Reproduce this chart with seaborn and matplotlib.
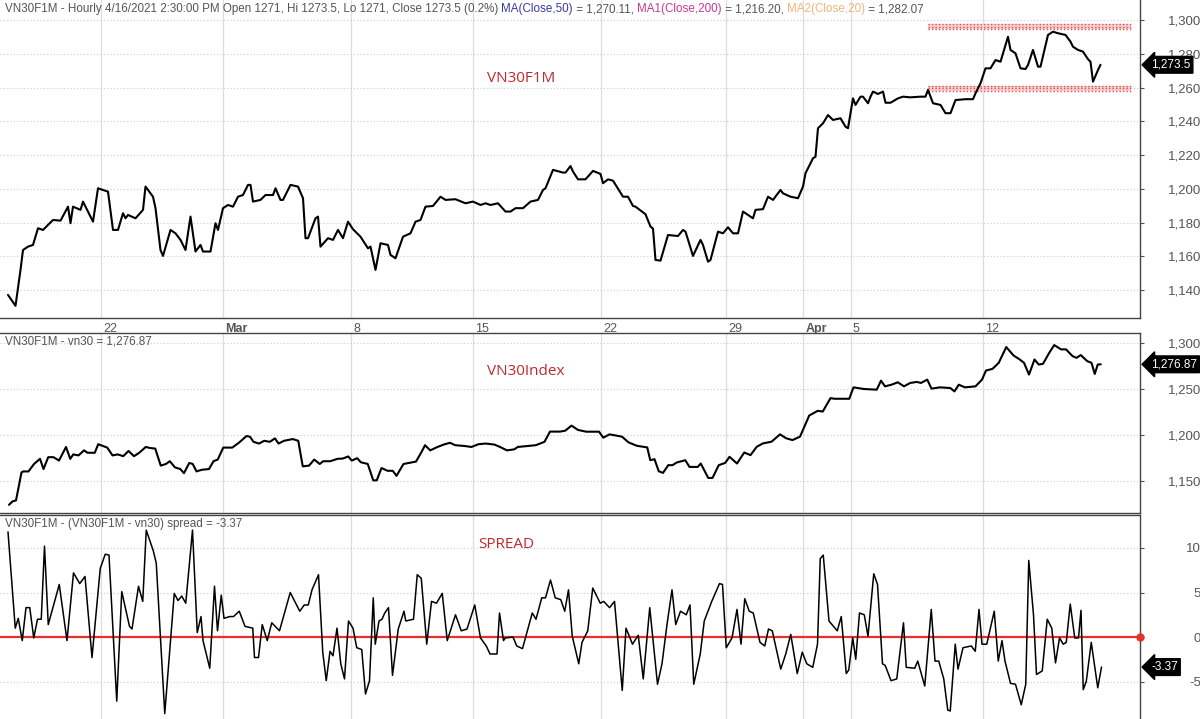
import matplotlib
matplotlib.use("Agg")
import matplotlib.pyplot as plt
import seaborn as sns
import pandas as pd

sns.set_style("white")
plt.rcParams["font.family"] = ["Liberation Sans", "DejaVu Sans"]

# time in trading days since the first bar (Feb 17 2021)
f1m_t = [0.0, 0.3, 0.5, 0.6, 0.8, 1.0, 1.2, 1.4, 1.8, 2.1, 2.4, 2.5, 2.6, 2.9, 3.0, 3.4, 3.6, 4.0, 4.2, 4.4,
         4.6, 4.7, 4.8, 5.1, 5.4, 5.5, 5.8, 5.9, 6.1, 6.2, 6.5, 6.7, 6.9, 7.1, 7.3, 7.5, 7.7, 7.8, 8.1, 8.3,
         8.4, 8.6, 8.8, 9.0, 9.2, 9.4, 9.6, 9.7, 9.8, 10.1, 10.3, 10.6, 10.7, 10.9, 11.0, 11.3, 11.6, 11.8, 11.9, 12.0,
         12.3, 12.4, 12.5, 12.8, 13.0, 13.2, 13.4, 13.6, 13.8, 14.1, 14.4, 14.5, 14.7, 14.9,
         15.2, 15.3, 15.5, 15.8, 16.1, 16.3, 16.5, 16.7, 17.0, 17.3, 17.5, 17.9, 18.3, 18.6, 18.9, 19.1, 19.3, 19.6,
         19.9, 20.1, 20.3, 20.6, 20.9, 21.2, 21.4, 21.5, 21.8, 22.2, 22.3, 22.5, 22.6, 22.8, 23.1, 23.4, 23.7, 23.8,
         24.0, 24.2, 24.6, 24.8, 25.0, 25.1, 25.5, 25.7, 25.8, 25.9, 26.1, 26.4, 26.8, 27.0, 27.1, 27.4, 27.7, 27.8,
         28.0, 28.1, 28.4, 28.6, 28.8, 29.0, 29.2, 29.4, 29.7,
         29.8, 29.9, 30.2, 30.4, 30.6, 30.9, 31.0, 31.3, 31.6, 31.8, 31.9, 32.2, 32.3, 32.4, 32.6, 32.8, 33.0, 33.3,
         33.5, 33.6, 33.8, 33.9, 34.1, 34.2, 34.4, 34.5, 34.6, 34.8, 35.0, 35.1, 35.3, 35.6, 35.8, 36.1, 36.5, 36.7,
         36.8, 37.0, 37.3, 37.5, 37.7, 37.9, 38.3, 38.6, 38.7, 38.9, 39.1, 39.3, 39.5, 39.7, 39.9, 40.0, 40.1, 40.3,
         40.5, 40.7, 40.8, 41.0, 41.2, 41.3, 41.6, 41.8, 42.0, 42.3, 42.5, 42.6, 42.8, 43.0, 43.2, 43.3, 43.4, 43.6, 43.7]
f1m_close = [1137.1, 1130.6, 1151.9, 1163.7, 1165.7, 1166.7, 1176.6, 1175.6, 1181.5, 1181.1, 1189.4, 1179.6, 1189.4, 1187.5,
             1192.4, 1180.5, 1200.3, 1198.3, 1175.6, 1175.6, 1185.5, 1182.5, 1184.5, 1182.5, 1187.5, 1201.3, 1195.3, 1188.5,
             1163.7, 1160.2, 1175.6, 1173.6, 1169.7, 1163.7, 1183.5, 1162.8, 1166.7, 1162.8, 1162.8, 1179.6, 1175.6, 1188.5,
             1190.4, 1189.4, 1195.3, 1196.3, 1202.3, 1202.3, 1192.4, 1193.4, 1196.3, 1196.3, 1200.3, 1193.4, 1193.4, 1202.3,
             1201.3, 1194.4, 1170.7, 1170.7, 1182.5, 1183.5, 1165.7, 1170.7, 1169.7, 1175.6, 1170.7, 1180.5, 1176.0, 1171.6,
             1164.7, 1165.7, 1151.9, 1167.7,
             1166.7, 1160.8, 1158.8, 1171.6, 1173.6, 1180.5, 1181.5, 1189.4, 1189.8, 1195.3, 1193.4, 1193.8, 1191.4, 1192.4,
             1190.4, 1191.4, 1190.4, 1191.4, 1186.5, 1186.5, 1188.5, 1188.5, 1192.4, 1193.4, 1199.3, 1200.3, 1211.2, 1209.6,
             1209.6, 1213.5, 1210.2, 1205.6, 1205.6, 1210.6, 1208.8, 1203.3, 1205.6, 1204.8, 1195.3, 1195.3, 1189.8, 1189.4,
             1184.9, 1177.6, 1176.4, 1157.8, 1157.4, 1172.6, 1172.0, 1175.6, 1174.6, 1160.2, 1169.7, 1166.7, 1156.8, 1157.8,
             1174.6, 1173.6, 1177.2, 1173.6, 1173.6, 1186.5, 1183.5,
             1182.5, 1187.5, 1187.9, 1195.3, 1193.4, 1199.3, 1197.3, 1195.3, 1194.4, 1201.3, 1209.2, 1218.1, 1219.0, 1235.9,
             1238.8, 1243.7, 1240.8, 1241.8, 1236.8, 1235.9, 1253.6, 1249.7, 1254.6, 1254.6, 1250.7, 1254.6, 1257.6, 1256.2,
             1257.6, 1251.0, 1251.0, 1253.6, 1254.6, 1254.2, 1254.6, 1254.6, 1258.6, 1250.7, 1249.7, 1244.8, 1244.8, 1252.6,
             1253.1, 1253.1, 1256.6, 1262.5, 1271.4, 1271.4, 1276.3, 1275.3, 1285.2, 1290.1, 1282.3, 1280.3, 1271.4, 1271.0,
             1273.4, 1282.3, 1272.4, 1272.4, 1291.2, 1293.1, 1292.2, 1291.2, 1287.2, 1284.2, 1282.3, 1281.3, 1276.8, 1275.3,
             1263.5, 1270.4, 1273.5]

vn30_t = [0.04, 0.18, 0.32, 0.54, 0.61, 0.82, 1.04, 1.28, 1.42, 1.61, 1.82, 2.04, 2.18, 2.32, 2.49, 2.61, 2.82, 3.04,
          3.18, 3.47, 3.61, 3.97, 4.18, 4.39, 4.61, 4.82, 5.04, 5.25, 5.51, 5.68, 5.89, 6.11, 6.32, 6.47, 6.68, 6.89,
          7.04, 7.25, 7.39, 7.54, 7.75, 8.04, 8.22, 8.39, 8.61, 8.97, 9.25, 9.54, 9.68, 9.82, 10.04, 10.25, 10.47, 10.68,
          10.82, 11.04, 11.39, 11.61, 11.79, 12.04, 12.25, 12.47, 12.61, 12.89, 13.18, 13.39, 13.61, 13.75, 13.97, 14.11,
          14.39, 14.61, 14.75, 14.94, 15.18, 15.39, 15.54, 15.82, 16.04, 16.32, 16.54, 16.68, 16.89, 17.18, 17.47, 17.68,
          17.89, 18.25, 18.54, 18.82, 19.11, 19.46, 19.68, 19.96, 20.25, 20.39, 21.11, 21.46, 21.68, 22.08,
          22.29, 22.54, 22.80, 23.13, 23.64, 23.81, 24.06, 24.56, 24.82, 25.15, 25.57, 25.69, 25.86, 26.03, 26.20, 26.41,
          26.58, 26.75, 27.09, 27.26, 27.59, 27.71, 28.01, 28.18, 28.43, 28.69, 28.86, 29.16, 29.45, 29.70, 29.95, 30.20,
          30.54, 30.88, 31.13, 31.38, 31.68, 32.05, 32.22, 32.39, 32.59, 32.90, 33.06, 33.40, 33.65, 33.82, 34.24, 34.75,
          34.92, 35.08, 35.34, 35.59, 35.84, 36.09, 36.35, 36.52, 36.77, 36.94, 37.27, 37.69, 37.86, 38.03, 38.28, 38.70,
          38.96, 39.12, 39.38, 39.63, 39.93, 40.22, 40.47, 40.64, 40.84, 41.06, 41.23, 41.40, 41.65, 41.85, 42.12, 42.32,
          42.58, 42.74, 42.91, 43.17, 43.34, 43.47, 43.59, 43.71]
vn30_close = [1124.1, 1127.8, 1128.9, 1159.3, 1160.4, 1160.4, 1168.5, 1174.1, 1163.0, 1175.9, 1175.9, 1172.2, 1179.6, 1187.0,
              1174.1, 1178.9, 1177.8, 1183.3, 1180.7, 1180.7, 1190.0, 1186.3, 1177.8, 1178.9, 1177.0, 1182.6, 1177.0, 1180.7,
              1187.0, 1185.9, 1185.2, 1166.7, 1168.5, 1171.5, 1164.8, 1163.0, 1158.5, 1169.6, 1168.5, 1160.4, 1162.2, 1163.0,
              1171.5, 1173.3, 1186.3, 1186.3, 1191.9, 1198.9, 1198.1, 1192.6, 1190.7, 1193.7, 1192.6, 1196.3, 1190.7, 1193.7,
              1195.6, 1193.7, 1165.9, 1166.7, 1173.3, 1168.5, 1171.5, 1171.5, 1174.1, 1174.4, 1176.7, 1172.2, 1174.8, 1170.4,
              1168.5, 1150.7, 1150.7, 1164.1, 1161.1, 1161.1, 1155.6, 1168.5, 1169.6, 1171.1, 1181.5, 1188.9, 1183.3, 1187.0,
              1190.0, 1191.5, 1188.9, 1188.1, 1187.0, 1190.0, 1190.7, 1189.6, 1187.0, 1183.3, 1184.4, 1187.0, 1188.9, 1192.6,
              1203.7, 1203.7,
              1204.7, 1210.2, 1205.5, 1203.6, 1203.6, 1197.1, 1200.7, 1198.2, 1192.0, 1188.3, 1186.5, 1172.6, 1173.7, 1160.6,
              1158.8, 1167.2, 1167.2, 1170.1, 1172.6, 1165.3, 1165.3, 1169.0, 1153.3, 1153.3, 1167.2, 1169.7, 1176.3, 1169.0,
              1181.0, 1178.1, 1187.2, 1190.9, 1192.7, 1200.7, 1196.4, 1194.5, 1198.2, 1221.2, 1223.8, 1226.3, 1225.5, 1240.1,
              1239.4, 1239.4, 1239.4, 1251.8, 1250.0, 1249.3, 1259.1, 1252.9, 1254.7, 1257.3, 1252.9, 1256.6, 1257.7, 1256.6,
              1260.2, 1250.4, 1251.8, 1251.1, 1247.4, 1254.7, 1251.8, 1252.9, 1260.2, 1270.1, 1271.9, 1278.5, 1295.6, 1286.5,
              1282.1, 1278.5, 1265.7, 1282.1, 1276.6, 1277.4, 1289.4, 1297.8, 1293.1, 1293.1, 1285.8, 1283.9, 1286.9, 1280.3,
              1278.5, 1266.4, 1276.6, 1276.87]

spread_t = [0.0, 0.29, 0.41, 0.57, 0.72, 0.87, 1.03, 1.18, 1.33, 1.46, 1.61, 2.05, 2.36, 2.62, 2.87, 3.08, 3.36, 3.69,
            3.89, 4.04, 4.35, 4.55, 4.86, 4.96, 5.22, 5.39, 5.53, 5.81, 5.93, 6.27, 6.65, 6.80, 6.95, 7.11, 7.38, 7.57,
            7.72, 7.80, 8.07, 8.26, 8.38, 8.53, 8.64, 8.87, 9.02, 9.25, 9.48, 9.79, 9.86, 10.02, 10.17, 10.37, 10.55, 10.86,
            11.29, 11.67, 11.85, 12.01, 12.16, 12.42, 12.59, 12.73, 12.88, 13.00, 13.16, 13.31, 13.46, 13.62, 13.80, 13.95,
            14.15, 14.30, 14.46, 14.61, 14.69, 14.84, 14.96, 15.07, 15.22, 15.38, 15.61, 15.84, 15.91, 16.22, 16.37, 16.53,
            16.75, 16.94, 17.14, 17.37, 17.57, 17.90, 18.13, 18.36, 18.67, 18.90, 19.13, 19.28, 19.56, 19.66, 19.82, 19.89,
            20.20, 20.35, 20.58, 20.97, 21.12, 21.35, 21.50, 21.70, 21.89, 22.11, 22.27, 22.42, 22.57, 22.83, 22.96, 23.19,
            23.39, 23.69, 23.83, 24.06, 24.26, 24.57, 24.72, 24.98, 25.21, 25.41, 25.67, 25.98, 26.16, 26.36, 26.56, 26.71,
            26.90, 27.13, 27.28, 27.43, 27.69, 27.85, 28.15, 28.46, 28.58, 28.73, 28.96, 29.16, 29.32, 29.47, 29.65, 29.81,
            30.08, 30.27, 30.42, 30.57, 30.91, 31.11, 31.31, 31.57, 31.77, 31.95, 32.19, 32.38, 32.49, 32.61, 32.84, 33.17,
            33.33, 33.53, 33.63, 33.79, 33.91, 34.06, 34.25, 34.40, 34.63, 34.78, 34.98, 35.09, 35.32, 35.55, 35.82, 35.93,
            36.27, 36.39, 36.67, 36.93, 37.08, 37.23, 37.43, 37.59, 37.69, 37.89, 38.00, 38.20, 38.53, 38.69, 38.84, 38.96,
            39.15, 39.45, 39.61, 39.76, 39.88, 40.10, 40.30, 40.53, 40.71, 40.83, 41.02, 41.14, 41.37, 41.57, 41.75, 41.90,
            42.06, 42.21, 42.33, 42.49, 42.67, 42.82, 42.92, 43.01, 43.13, 43.33, 43.59, 43.74]
spread_val = [11.8, 1.0, 2.1, -0.4, 3.3, 3.3, -0.1, 2.0, 2.0, 10.2, 1.4, 5.9, -0.4, 7.2, 6.0, 6.8, -2.3, 7.7,
              9.3, 9.2, -7.2, 5.1, 1.2, 0.9, 5.7, 4.0, 12.0, 9.7, 8.3, -8.6, 4.9, 4.1, 4.6, 3.8, 12.0, 0.5,
              2.3, -0.4, -3.5, 5.7, 0.7, 4.7, 2.1, 2.3, 2.3, 2.9, 1.2, 1.0, -2.3, -2.3, 1.4, -0.4, 1.6, 0.7,
              5.0, 2.9, 3.6, 3.6, 5.3, 7.0, -1.7, -4.9, -1.6, -2.1, 1.0, -3.0, -4.7, 1.8, 1.0, -1.2,
              -1.4, -6.4, -4.9, 4.4, -0.8, 1.8, 2.0, 2.7, 3.3, -4.3, 0.9, 2.9, 1.8, 2.0, 7.0, 6.6,
              -0.8, 4.0, 3.8, 4.9, -0.4, 2.5, 0.7, 0.9, 3.6, -0.1, -1.0, -1.9, -1.9, 2.7, -0.4, -0.1,
              0.0, -1.0, -1.3, 2.7, 2.0, 4.4, 4.4, 6.4, 4.4, 4.2, 2.9, 5.3, 0.1, -3.0, -0.6, 0.7,
              5.5, 3.8, 4.0, 3.3, 4.0, -6.0, 1.0, -0.8, 0.2, -4.7, 3.3, -5.3, -3.0, 1.4, 5.3, 1.4,
              2.9, 2.5, 3.6, -5.3, -1.9, 1.8, 4.0, 6.0, 5.9, -1.2, -0.1, 3.1, -0.8, 4.3, 2.9, 2.7,
              -0.6, -1.0, 0.9, 0.7, -3.6, -1.9, 0.3, -4.1, -1.7, -3.0, -3.4, -0.8, 8.8, 9.2, 1.8, 0.7,
              2.3, -4.1, -3.7, -0.1, -2.5, 2.7, 2.5, 0.1, 7.1, 5.9, -3.0, -3.2, -4.9, -4.7, 1.6, -3.4,
              -3.5, -2.7, -5.5, 3.1, -2.7, -2.7, -4.7, -8.2, -8.3, -0.8, -3.6, -1.2, -1.0, -1.6, 3.1, -0.8,
              -0.8, 2.9, -2.7, -0.4, -2.7, -5.2, -5.3, -7.6, -5.3, 8.6, 2.5, -4.2, -3.8, 2.0, 1.0, -2.9,
              -0.1, -0.8, -0.6, 3.7, -0.1, -0.1, 3.0, -5.9, -5.0, -0.6, -5.7, -3.37]

date_pos = [3.7, 8.6, 13.7, 18.6, 23.7, 28.7, 31.8, 33.7, 39.0]
date_lbl = ["22", "Mar", "8", "15", "22", "29", "Apr", "5", "12"]
top_ticks = [1140, 1160, 1180, 1200, 1220, 1240, 1260, 1280, 1300]
mid_ticks = [1150, 1200, 1250, 1300]
spr_ticks = [-5, 0, 5, 10]
band_hi = (1294.5, 1297.5)
band_lo = (1258.0, 1261.0)
band_t = (36.8, 44.9)

df_f = pd.DataFrame({"t": f1m_t, "v": f1m_close})
df_i = pd.DataFrame({"t": vn30_t, "v": vn30_close})
df_s = pd.DataFrame({"t": spread_t, "v": spread_val})

W, H = 1200, 719
fig = plt.figure(figsize=(12, 7.19), dpi=100)
ax1 = fig.add_axes([0, 1 - 318 / H, 1140 / W, 318 / H])
ax2 = fig.add_axes([0, 1 - 513 / H, 1140 / W, 180 / H])
ax3 = fig.add_axes([0, 0, 1140 / W, 204 / H])

gray = "#555555"
xlim = (-0.32, 45.28)
for ax, ticks in [(ax1, top_ticks), (ax2, mid_ticks), (ax3, spr_ticks)]:
    ax.set_xlim(*xlim)
    for d in date_pos:
        ax.axvline(d, color="#dddddd", lw=0.9, zorder=0)
    for tk in ticks:
        ax.axhline(tk, color="#cccccc", lw=0.8, ls=(0, (1, 2)), zorder=0)
    ax.yaxis.tick_right()
    ax.set_yticks(ticks)
    ax.tick_params(axis="y", length=3, color=gray, labelcolor=gray, labelsize=9.5, pad=41)
    for lab in ax.get_yticklabels():
        lab.set_horizontalalignment("right")
    ax.set_xticks([])
    ax.spines["left"].set_visible(False)
    for s in ["top", "bottom", "right"]:
        ax.spines[s].set_color("#444444")
        ax.spines[s].set_linewidth(1.0)

ax1.set_ylim(1123.4, 1311.9)
ax2.set_ylim(1115.2, 1310.9)
ax3.set_ylim(-9.2, 13.7)
ax1.set_yticklabels([f"{v:,}" for v in top_ticks])
ax2.set_yticklabels([f"{v:,}" for v in mid_ticks])
ax3.set_yticklabels([str(v) for v in spr_ticks])
ax1.spines["top"].set_visible(False)
ax3.spines["bottom"].set_visible(False)

# support / resistance bands
for lo, hi in [band_hi, band_lo]:
    ax1.fill_between(band_t, lo, hi, color="#f8d0d0", lw=0, zorder=1)
    for y in (lo, (lo + hi) / 2, hi):
        ax1.plot(band_t, [y, y], color="#e05050", lw=1.0, ls=(0, (1, 1.5)), zorder=1)

sns.lineplot(data=df_f, x="t", y="v", ax=ax1, color="black", lw=1.5, sort=False, estimator=None)
sns.lineplot(data=df_i, x="t", y="v", ax=ax2, color="black", lw=1.5, sort=False, estimator=None)
ax3.axhline(0, color="#e8302a", lw=1.6, zorder=2)
ax3.plot([xlim[1]], [0], "o", color="#e8302a", ms=5, clip_on=False, zorder=5)
sns.lineplot(data=df_s, x="t", y="v", ax=ax3, color="black", lw=1.1, sort=False, estimator=None)
for ax in (ax1, ax2, ax3):
    ax.set_xlabel("")
    ax.set_ylabel("")

# date labels under the top panel
for d, l in zip(date_pos, date_lbl):
    ax1.text(d + 0.1, -0.015, l, transform=ax1.get_xaxis_transform(), ha="left", va="top",
             fontsize=9, color=gray, fontweight="bold" if l in ("Mar", "Apr") else "normal")

# last value markers
def last_tag(ax, y, txt):
    ax.annotate(txt, xy=(1.0, y), xycoords=("axes fraction", "data"), xytext=(8, 0),
                textcoords="offset points", ha="left", va="center", color="white", fontsize=8.5,
                bbox=dict(boxstyle="larrow,pad=0.2", fc="black", ec="black"), annotation_clip=False)

last_tag(ax1, f1m_close[-1], "1,273.5")
last_tag(ax2, vn30_close[-1], "1,276.87")
last_tag(ax3, spread_val[-1], "-3.37")

# headers
def header(ax, parts):
    fig.canvas.draw()
    r = fig.canvas.get_renderer()
    x = 5
    for txt, col in parts:
        t = ax.annotate(txt, xy=(0, 1), xycoords="axes fraction", xytext=(x, -3),
                        textcoords="offset pixels", ha="left", va="top", fontsize=8.4, color=col)
        x += t.get_window_extent(r).width

header(ax1, [("VN30F1M - Hourly 4/16/2021 2:30:00 PM Open 1271, Hi 1273.5, Lo 1271, Close 1273.5 (0.2%) ", gray),
             ("MA(Close,50)", "#3a3aa0"), (" = 1,270.11, ", gray),
             ("MA1(Close,200)", "#c8389a"), (" = 1,216.20, ", gray),
             ("MA2(Close,20)", "#f2b47a"), (" = 1,282.07", gray)])
header(ax2, [("VN30F1M - vn30 = 1,276.87", gray)])
header(ax3, [("VN30F1M - (VN30F1M - vn30) spread = -3.37", gray)])

red = "#c0282d"
ax1.text(487 / 1140, 1 - 78 / 318, "VN30F1M", transform=ax1.transAxes, color=red, fontsize=11,
         family=["Open Sans", "DejaVu Sans"], va="center")
ax2.text(487 / 1140, 1 - 39 / 180, "VN30Index", transform=ax2.transAxes, color=red, fontsize=11,
         family=["Open Sans", "DejaVu Sans"], va="center")
ax3.text(478 / 1140, 1 - 29 / 204, "SPREAD", transform=ax3.transAxes, color=red, fontsize=11,
         family=["Open Sans", "DejaVu Sans"], va="center")

fig.savefig("out.png", dpi=100)
